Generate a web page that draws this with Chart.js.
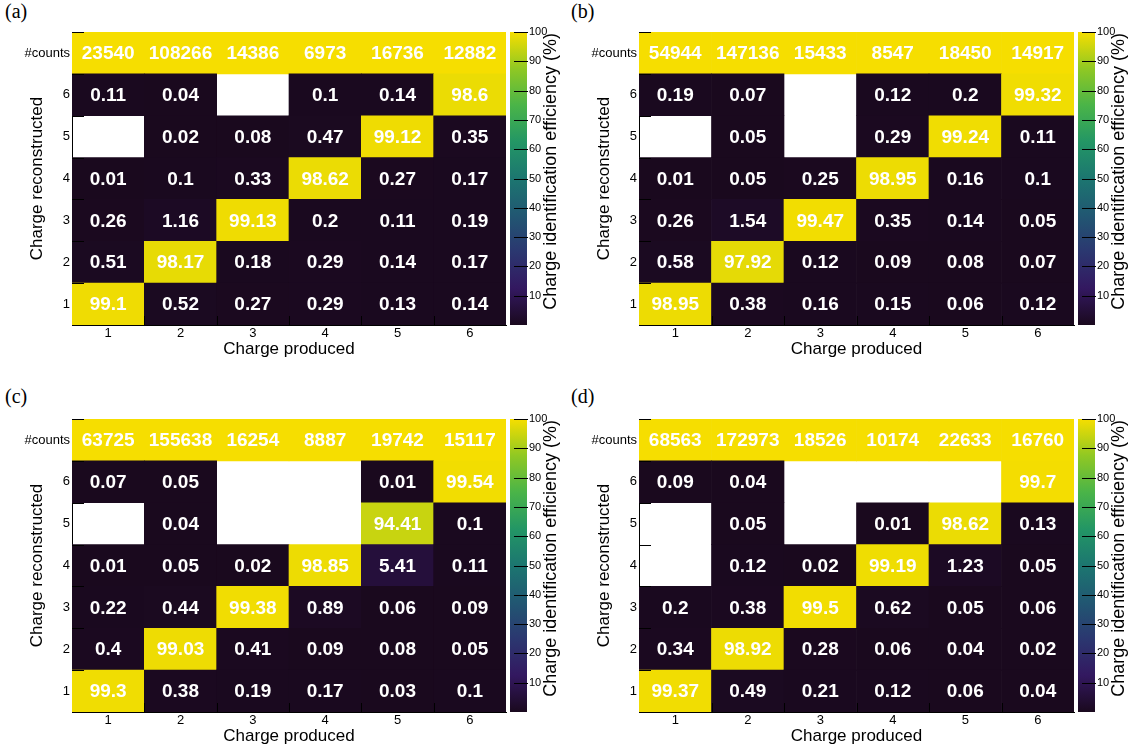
<!DOCTYPE html>
<html>
<head>
<meta charset="utf-8">
<script src="https://cdn.jsdelivr.net/npm/chart.js@4.4.1/dist/chart.umd.min.js"></script>
<style>
  body { margin: 0; background: #fff; width: 1132px; height: 751px; overflow: hidden; position: relative; }
  canvas { position: absolute; }
  .tag { position: absolute; font: 20px 'Liberation Serif', 'DejaVu Serif', serif; line-height: 1; color: #000; }
</style>
</head>
<body>
<div class="tag" style="left:5px;top:1px">(a)</div>
<div class="tag" style="left:571px;top:1px">(b)</div>
<div class="tag" style="left:5px;top:386px">(c)</div>
<div class="tag" style="left:571px;top:386px">(d)</div>
<canvas id="mapA"></canvas><canvas id="barA"></canvas>
<canvas id="mapB"></canvas><canvas id="barB"></canvas>
<canvas id="mapC"></canvas><canvas id="barC"></canvas>
<canvas id="mapD"></canvas><canvas id="barD"></canvas>
<script>
const produced = ['1', '2', '3', '4', '5', '6'];
const rowNames = ['1', '2', '3', '4', '5', '6', '#counts'];
const scaleTicks = [10, 20, 30, 40, 50, 60, 70, 80, 90, 100];

// #counts per produced charge
const countsA = [23540, 108266, 14386, 6973, 16736, 12882];
const countsB = [54944, 147136, 15433, 8547, 18450, 14917];
const countsC = [63725, 155638, 16254, 8887, 19742, 15117];
const countsD = [68563, 172973, 18526, 10174, 22633, 16760];

// efficiency (%), one row per reconstructed charge 1..6, columns = produced 1..6, null = empty bin
const effA = [
  [99.1, 0.52, 0.27, 0.29, 0.13, 0.14],
  [0.51, 98.17, 0.18, 0.29, 0.14, 0.17],
  [0.26, 1.16, 99.13, 0.2, 0.11, 0.19],
  [0.01, 0.1, 0.33, 98.62, 0.27, 0.17],
  [null, 0.02, 0.08, 0.47, 99.12, 0.35],
  [0.11, 0.04, null, 0.1, 0.14, 98.6]
];
const effB = [
  [98.95, 0.38, 0.16, 0.15, 0.06, 0.12],
  [0.58, 97.92, 0.12, 0.09, 0.08, 0.07],
  [0.26, 1.54, 99.47, 0.35, 0.14, 0.05],
  [0.01, 0.05, 0.25, 98.95, 0.16, 0.1],
  [null, 0.05, null, 0.29, 99.24, 0.11],
  [0.19, 0.07, null, 0.12, 0.2, 99.32]
];
const effC = [
  [99.3, 0.38, 0.19, 0.17, 0.03, 0.1],
  [0.4, 99.03, 0.41, 0.09, 0.08, 0.05],
  [0.22, 0.44, 99.38, 0.89, 0.06, 0.09],
  [0.01, 0.05, 0.02, 98.85, 5.41, 0.11],
  [null, 0.04, null, null, 94.41, 0.1],
  [0.07, 0.05, null, null, 0.01, 99.54]
];
const effD = [
  [99.37, 0.49, 0.21, 0.12, 0.06, 0.04],
  [0.34, 98.92, 0.28, 0.06, 0.04, 0.02],
  [0.2, 0.38, 99.5, 0.62, 0.05, 0.06],
  [null, 0.12, 0.02, 99.19, 1.23, 0.05],
  [null, 0.05, null, 0.01, 98.62, 0.13],
  [0.09, 0.04, null, null, null, 99.7]
];

// ROOT kViridis palette
const palStops = [0, 0.125, 0.25, 0.375, 0.5, 0.625, 0.75, 0.875, 1];
const palRGB = [[26, 9, 30], [51, 24, 96], [43, 55, 112], [33, 87, 114], [28, 118, 112],
                [35, 150, 101], [74, 180, 72], [144, 200, 35], [246, 222, 0]];

function viridis(v) {
  const t = Math.min(1, Math.max(0, v / 100));
  let i = 0;
  while (i < palStops.length - 2 && t > palStops[i + 1]) i++;
  const f = (t - palStops[i]) / (palStops[i + 1] - palStops[i]);
  const c = palRGB[i].map((a, k) => Math.round(a + (palRGB[i + 1][k] - a) * f));
  return `rgb(${c.join(',')})`;
}

Chart.defaults.font.family = '"Liberation Sans", Arial, sans-serif';
Chart.defaults.color = '#000';

const panels = [
  { id: 'A', counts: countsA, eff: effA, left: 72, right: 506, top: 32 },
  { id: 'B', counts: countsB, eff: effB, left: 639, right: 1074, top: 32 },
  { id: 'C', counts: countsC, eff: effC, left: 72, right: 506, top: 419 },
  { id: 'D', counts: countsD, eff: effD, left: 639, right: 1074, top: 419 }
];

const binTicks = {
  id: 'binTicks',
  afterDatasetsDraw(chart) {
    const { ctx, chartArea: a, scales: { x, y } } = chart;
    ctx.save();
    ctx.strokeStyle = '#000';
    ctx.lineWidth = 1;
    ctx.beginPath();
    for (let k = 0; k <= rowNames.length; k++) {
      const py = Math.round(y.getPixelForValue(k + 0.5)) + 0.5;
      ctx.moveTo(a.left, py);
      ctx.lineTo(a.left + 12, py);
    }
    for (let k = 1; k < produced.length; k++) {
      const px = Math.round((x.getPixelForValue(k - 1) + x.getPixelForValue(k)) / 2) + 0.5;
      ctx.moveTo(px, a.bottom);
      ctx.lineTo(px, a.bottom - 9);
    }
    ctx.stroke();
    ctx.restore();
  }
};

const cellText = {
  id: 'cellText',
  afterDatasetsDraw(chart) {
    const ctx = chart.ctx;
    ctx.save();
    ctx.font = 'bold 19px "Liberation Sans", Arial, sans-serif';
    ctx.fillStyle = '#fff';
    ctx.textAlign = 'center';
    ctx.textBaseline = 'middle';
    chart.data.datasets.forEach((ds, i) => {
      chart.getDatasetMeta(i).data.forEach((bar, j) => {
        if (ds.data[j] == null) return;
        const c = bar.getCenterPoint();
        ctx.fillText(ds.texts[j], c.x, c.y + 1);
      });
    });
    ctx.restore();
  }
};

const barTicks = {
  id: 'barTicks',
  afterDatasetsDraw(chart) {
    const { ctx, chartArea: a, scales: { y } } = chart;
    ctx.save();
    ctx.strokeStyle = '#000';
    ctx.lineWidth = 1;
    ctx.beginPath();
    scaleTicks.forEach(v => {
      const py = Math.round(y.getPixelForValue(v)) + 0.5;
      ctx.moveTo(a.right - 13, py);
      ctx.lineTo(a.right + 1, py);
    });
    ctx.stroke();
    // colour bar title, ROOT style: reads upward, ends at the top
    ctx.translate(a.right + 24, a.top + 1);
    ctx.rotate(-Math.PI / 2);
    ctx.font = '18px "Liberation Sans", Arial, sans-serif';
    ctx.fillStyle = '#000';
    ctx.textAlign = 'right';
    ctx.textBaseline = 'middle';
    ctx.fillText('Charge identification efficiency (%)', 0, 0);
    ctx.restore();
  }
};

function place(canvas, left, top, w, h) {
  canvas.width = w;
  canvas.height = h;
  canvas.style.left = left + 'px';
  canvas.style.top = top + 'px';
  canvas.style.width = w + 'px';
  canvas.style.height = h + 'px';
}

panels.forEach(p => {
  const mapCanvas = document.getElementById('map' + p.id);
  const cLeft = p.left - 72, cTop = p.top - 12;
  place(mapCanvas, cLeft, cTop, p.right - cLeft + 2, 346);

  const datasets = rowNames.map((name, r) => {
    const isCounts = r === rowNames.length - 1;
    const vals = isCounts ? p.counts : p.eff[r];
    return {
      label: name,
      data: vals.map(v => v == null ? null : [r + 0.5, r + 1.5]),
      texts: vals.map(v => v == null ? '' : String(v)),
      backgroundColor: vals.map(v => isCounts ? viridis(100) : viridis(v)),
      grouped: false,
      barPercentage: 1,
      categoryPercentage: 1,
      borderWidth: 0
    };
  });

  new Chart(mapCanvas, {
    type: 'bar',
    data: { labels: produced, datasets },
    options: {
      responsive: false,
      animation: false,
      events: [],
      layout: { padding: { top: 12, right: 2, left: 0, bottom: 0 } },
      plugins: { legend: { display: false }, tooltip: { enabled: false } },
      scales: {
        x: {
          z: 1,
          afterFit: s => { s.height = 41; },
          grid: { display: false, drawTicks: false },
          border: { display: true, color: '#000', width: 1 },
          ticks: { font: { size: 13 }, padding: 1, color: '#000' },
          title: { display: true, text: 'Charge produced', font: { size: 17 }, color: '#000', padding: { top: 0, bottom: 6.8 } }
        },
        y: {
          z: 1,
          min: 0.5,
          max: 7.5,
          afterBuildTicks: s => { s.ticks = rowNames.map((n, i) => ({ value: i + 1 })); },
          afterFit: s => { s.width = 72; },
          grid: { display: false, drawTicks: false },
          border: { display: true, color: '#000', width: 1 },
          ticks: { font: { size: 13 }, padding: 2, color: '#000', callback: v => rowNames[v - 1] },
          title: { display: true, text: 'Charge reconstructed', font: { size: 17 }, color: '#000', padding: { top: 26.8, bottom: 0 } }
        }
      }
    },
    plugins: [binTicks, cellText]
  });

  const barCanvas = document.getElementById('bar' + p.id);
  place(barCanvas, p.right + 2, cTop, 56, 346);

  new Chart(barCanvas, {
    type: 'bar',
    data: {
      labels: [''],
      datasets: [{
        data: [[0, 100]],
        backgroundColor: ctx => {
          const a = ctx.chart.chartArea;
          if (!a) return viridis(50);
          const g = ctx.chart.ctx.createLinearGradient(0, a.bottom, 0, a.top);
          palStops.forEach((s, i) => g.addColorStop(s, `rgb(${palRGB[i].join(',')})`));
          return g;
        },
        barPercentage: 1,
        categoryPercentage: 1,
        borderWidth: 0
      }]
    },
    options: {
      responsive: false,
      animation: false,
      events: [],
      layout: { padding: { left: 2, top: 12, bottom: 41, right: 0 } },
      plugins: { legend: { display: false }, tooltip: { enabled: false } },
      scales: {
        x: { display: false },
        y: {
          position: 'right',
          min: 0,
          max: 100,
          afterBuildTicks: s => { s.ticks = scaleTicks.map(v => ({ value: v })); },
          afterFit: s => { s.width = 37; },
          grid: { display: false, drawTicks: false },
          border: { display: false },
          ticks: { font: { size: 11 }, padding: 2, color: '#000' }
        }
      }
    },
    plugins: [barTicks]
  });
});
</script>
</body>
</html>
